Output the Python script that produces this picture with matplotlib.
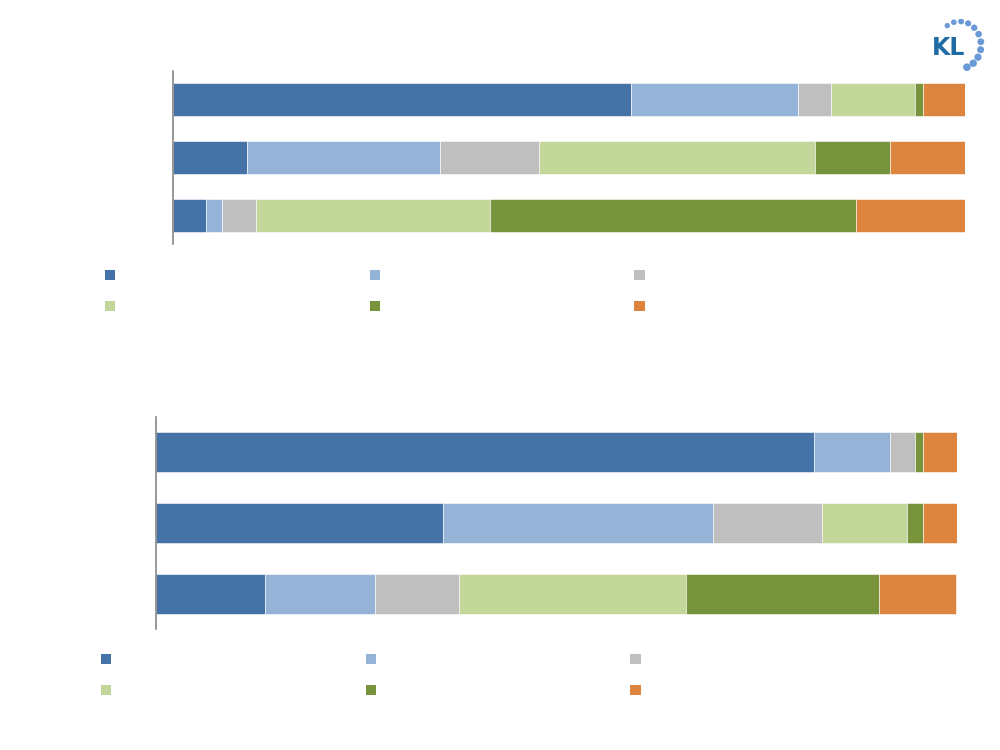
import numpy as np
import matplotlib.pyplot as plt
from matplotlib.patches import Patch

# shares in percent, bars listed top to bottom
colors = ['#4573A7', '#95B3D7', '#BFBFBF', '#C4D79B', '#77933C', '#DD843E']

top_1 = [57.8, 21.1, 4.2, 10.6, 1.0, 5.3]
top_2 = [9.3, 24.4, 12.5, 34.8, 9.5, 9.5]
top_3 = [4.2, 2.0, 4.3, 29.5, 46.2, 13.8]

bottom_1 = [82.1, 9.5, 3.1, 0.0, 1.0, 4.3]
bottom_2 = [35.8, 33.7, 13.7, 10.5, 2.0, 4.3]
bottom_3 = [13.6, 13.7, 10.5, 28.4, 24.1, 9.6]

top_data = np.array([top_1, top_2, top_3])
bottom_data = np.array([bottom_1, bottom_2, bottom_3])


def stacked(ax, data):
    y = np.arange(len(data))
    left = np.zeros(len(data))
    handles = []
    for i in range(data.shape[1]):
        ax.barh(y, data[:, i], left=left, height=0.57, color=colors[i],
                edgecolor='white', linewidth=0.4)
        left += data[:, i]
        handles.append(Patch(facecolor=colors[i]))
    ax.set_xlim(0, 100)
    ax.set_ylim(len(data) - 0.5, -0.5)
    for s in ['top', 'right', 'bottom']:
        ax.spines[s].set_visible(False)
    ax.spines['left'].set_color('#868686')
    ax.spines['left'].set_linewidth(1.2)
    ax.set_xticks([])
    ax.set_yticks([])
    return handles


fig = plt.figure(figsize=(10, 7.5), dpi=100)

ax1 = fig.add_axes([0.173, 0.6747, 0.792, 0.2307])
h1 = stacked(ax1, top_data)
ax2 = fig.add_axes([0.156, 0.1613, 0.801, 0.2827])
h2 = stacked(ax2, bottom_data)

order = [0, 3, 1, 4, 2, 5]
for h, anchor in [(h1, (0.105, 0.641)), (h2, (0.101, 0.129))]:
    fig.legend([h[k] for k in order], [''] * 6, ncol=3, loc='upper left',
               bbox_to_anchor=anchor, frameon=False, fontsize=10,
               handlelength=0.75, handleheight=0.75, handletextpad=0.0,
               columnspacing=18.3, labelspacing=1.22, borderpad=0,
               borderaxespad=0)

# logo
lax = fig.add_axes([0.925, 0.905, 0.062, 0.07])
lax.set_xlim(-1.4, 1.2)
lax.set_ylim(-1.0, 1.0)
lax.axis('off')
lax.text(-0.4, -0.1, 'KL', fontsize=17, fontweight='bold', color='#1F6BA5',
         ha='center', va='center', family='DejaVu Sans')
ang = np.deg2rad(np.linspace(125, -70, 11))
sizes = np.linspace(8, 20, 11)
lax.scatter(0.05 + 0.9 * np.cos(ang), 0.9 * np.sin(ang), s=sizes,
            color='#6A9AD6', marker='o')

fig.savefig('out.png', dpi=100, facecolor='white')
